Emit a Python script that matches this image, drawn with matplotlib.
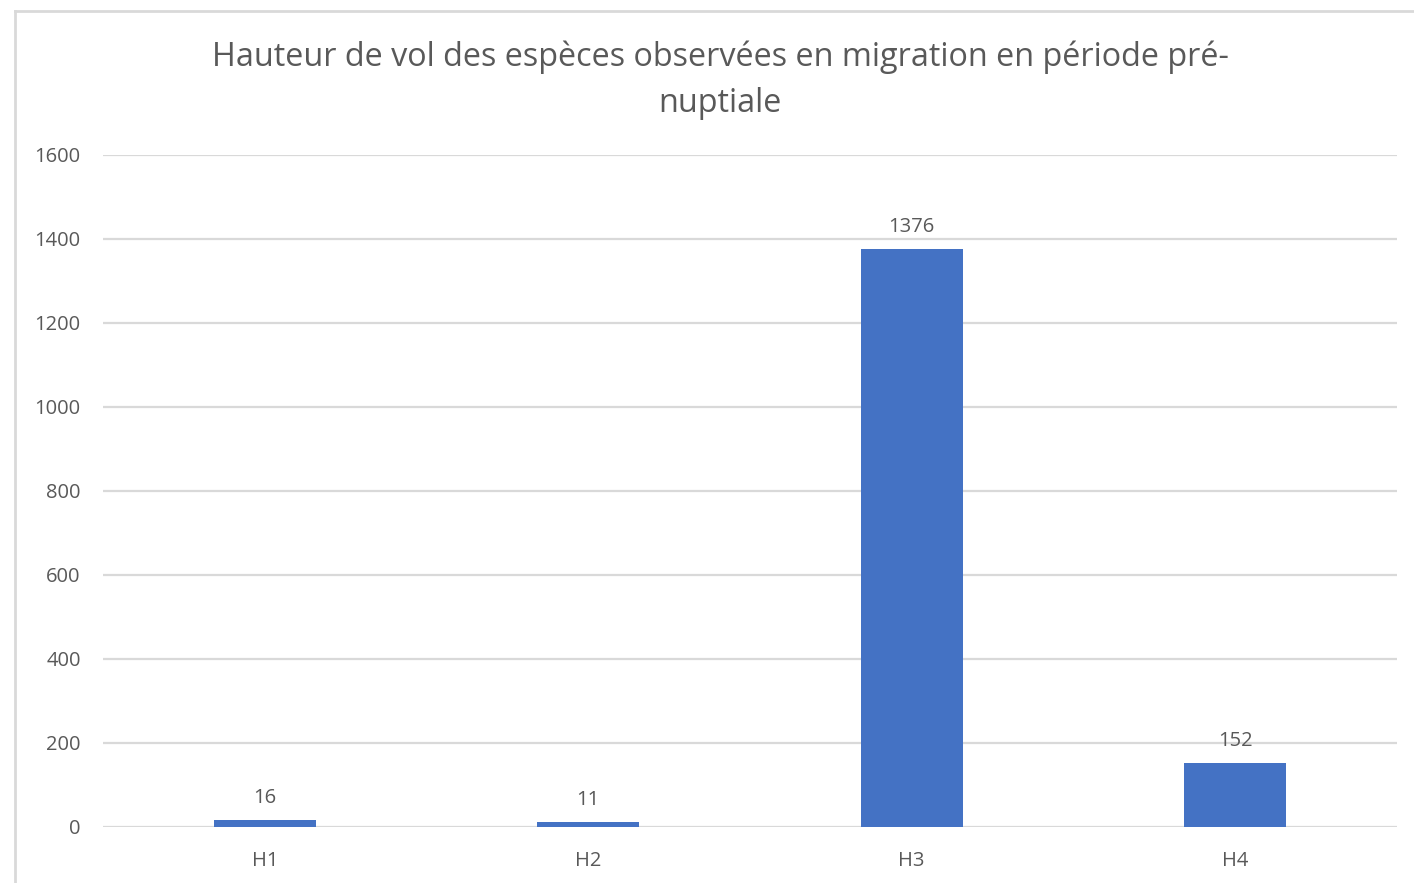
import matplotlib.pyplot as plt
from matplotlib.lines import Line2D

categories = ["H1", "H2", "H3", "H4"]
values = [16, 11, 1376, 152]
yticks = [0, 200, 400, 600, 800, 1000, 1200, 1400, 1600]

title = "Hauteur de vol des espèces observées en migration en période pré-\nnuptiale"

grey_txt = "#595959"
grey_line = "#d9d9d9"
bar_col = "#4472c4"

plt.rcParams['font.family'] = ['Open Sans', 'DejaVu Sans']

fig = plt.figure(figsize=(14.14, 8.83), dpi=100)
ax = fig.add_axes([103/1414, 1 - 827/883, (1397 - 103)/1414, (827 - 155)/883])

x = list(range(len(categories)))
bars = ax.bar(x, values, width=0.315, color=bar_col, zorder=3)

for xi, v in zip(x, values):
    ax.annotate(str(v), (xi, v), xytext=(0, 9), textcoords='offset points',
                ha='center', va='bottom', fontsize=14.5, color=grey_txt)

ax.set_xlim(-0.5, len(categories) - 0.5)
ax.set_ylim(0, 1600)
ax.set_yticks(yticks)
ax.set_yticklabels([str(t) for t in yticks])
ax.set_xticks(x)
ax.set_xticklabels(categories)
ax.tick_params(axis='both', length=0, labelsize=14.5, labelcolor=grey_txt)
ax.tick_params(axis='y', pad=16)
ax.tick_params(axis='x', pad=17)
ax.grid(axis='y', color=grey_line, linewidth=1.6, zorder=0)
for s in ax.spines.values():
    s.set_visible(False)

fig.text(720/1414, 1 - 80/883, title, ha='center', va='center',
         fontsize=23.3, color=grey_txt, linespacing=1.5)

# outer chart frame (left and top edges)
fig.add_artist(Line2D([15/1414, 15/1414], [0, 1 - 11/883], color=grey_line, lw=2,
                      transform=fig.transFigure))
fig.add_artist(Line2D([15/1414, 1], [1 - 11/883, 1 - 11/883], color=grey_line, lw=2,
                      transform=fig.transFigure))

fig.savefig("out.png", dpi=100)
